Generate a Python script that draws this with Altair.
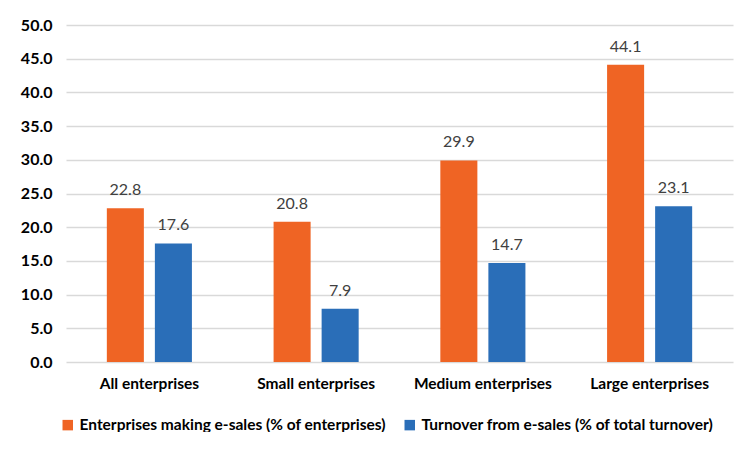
import altair as alt
import pandas as pd

categories = ["All enterprises", "Small enterprises", "Medium enterprises", "Large enterprises"]
series = ["Enterprises making e-sales (% of enterprises)", "Turnover from e-sales (% of total turnover)"]
esales_share = [22.8, 20.8, 29.9, 44.1]
turnover_share = [17.6, 7.9, 14.7, 23.1]
colors = ["#EF6424", "#2A6EB8"]

rows = []
for i, c in enumerate(categories):
    rows.append({"cat": c, "series": series[0], "value": esales_share[i]})
    rows.append({"cat": c, "series": series[1], "value": turnover_share[i]})
df = pd.DataFrame(rows)

FONT = "Lato"

x = alt.X("cat:N", sort=categories, title=None,
          scale=alt.Scale(paddingInner=0, paddingOuter=0),
          axis=alt.Axis(labelAngle=0, labelFontWeight="bold", labelFontSize=15.5,
                        labelColor="#000000", labelPadding=14, ticks=False,
                        domain=False, labelFont=FONT))
xo = alt.XOffset("series:N", sort=series,
                 scale=alt.Scale(paddingInner=0.229, paddingOuter=0.85))
y = alt.Y("value:Q", title=None,
          scale=alt.Scale(domain=[0, 50]),
          axis=alt.Axis(values=[0, 5, 10, 15, 20, 25, 30, 35, 40, 45, 50], format=".1f",
                        labelFontWeight="bold", labelFontSize=16, labelColor="#000000",
                        labelPadding=14, ticks=False, domain=False,
                        grid=True, gridColor="#D9D9D9", gridWidth=1.5, labelFont=FONT))

base = alt.Chart(df).encode(x=x, xOffset=xo, y=y)

bars = base.mark_bar().encode(
    color=alt.Color("series:N", sort=series,
                    scale=alt.Scale(domain=series, range=colors),
                    legend=alt.Legend(title=None, orient="none", legendX=-6, legendY=392,
                                      direction="horizontal", columns=2,
                                      symbolType="square", symbolSize=110,
                                      symbolStrokeWidth=0, labelFontSize=15.5,
                                      labelFontWeight="bold", labelColor="#000000",
                                      labelFont=FONT, labelLimit=600, columnPadding=16,
                                      labelOffset=4))
)

labels = base.mark_text(dy=-13, baseline="alphabetic", fontSize=16, color="#404040",
                        font=FONT).encode(text=alt.Text("value:Q", format=".1f"))

chart = (bars + labels).properties(
    width=667, height=337,
    autosize=alt.AutoSizeParams(type="none"),
    padding={"left": 58, "top": 17, "right": 1, "bottom": 70},
).configure_view(stroke=None)

chart.save("out.html", embed_options={"renderer": "svg", "actions": False})
